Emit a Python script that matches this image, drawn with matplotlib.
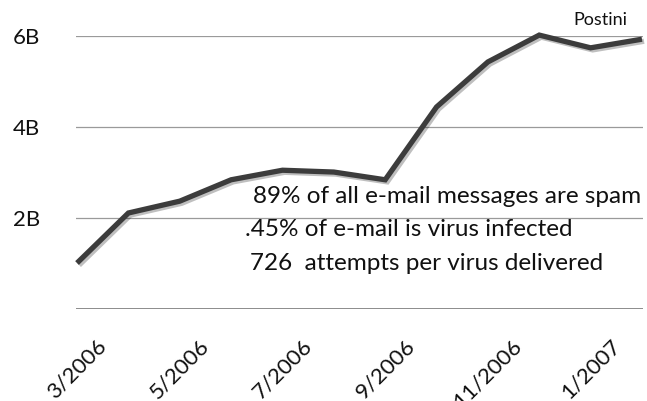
import matplotlib
matplotlib.use("Agg")
import matplotlib.pyplot as plt
import matplotlib.patheffects as pe

months = ["3/2006", "4/2006", "5/2006", "6/2006", "7/2006", "8/2006",
          "9/2006", "10/2006", "11/2006", "12/2006", "1/2007", "2/2007"]
values_b = [1.01, 2.11, 2.37, 2.84, 3.05, 3.01, 2.84, 4.44, 5.43, 6.02, 5.74, 5.93]
tick_labels = ["3/2006", "5/2006", "7/2006", "9/2006", "11/2006", "1/2007"]
y_ticks = [2, 4, 6]
y_tick_labels = ["2B", "4B", "6B"]
notes = ["89% of all e-mail messages are spam",
         ".45% of e-mail is virus infected",
         "726  attempts per virus delivered"]
source = "Postini"

plt.rcParams['font.family'] = ['Lato', 'DejaVu Sans']

W, H = 647, 401
fig = plt.figure(figsize=(W / 100, H / 100), dpi=100)
fig.patch.set_facecolor("white")
ax = fig.add_axes([76 / W, (H - 309) / H, (643 - 76) / W, (309 - 36) / H])
ax.set_facecolor("white")

x = list(range(len(months)))
ax.set_xlim(-0.02, len(months) - 1 + 0.02)
ax.set_ylim(0, 6)

for yt in y_ticks:
    ax.axhline(yt, color="#9a9a9a", lw=0.9, zorder=1)
ax.axhline(0, color="#6a6a6a", lw=1.8, zorder=1)

ax.plot(x, values_b, color="#3c3c3c", lw=3.8, solid_joinstyle="miter",
        solid_capstyle="butt", clip_on=False, zorder=3,
        path_effects=[pe.SimpleLineShadow(offset=(1.5, -1.5), alpha=0.25, shadow_color="#000000"),
                      pe.Normal()])

for s in ax.spines.values():
    s.set_visible(False)

ax.set_yticks(y_ticks)
ax.set_yticklabels(y_tick_labels, fontsize=16, color="#111111")
ax.tick_params(axis="y", length=0, pad=26)

tick_idx = [months.index(t) for t in tick_labels]
ax.set_xticks(tick_idx)
ax.set_xticklabels(tick_labels, rotation=45, ha="center", va="top",
                   fontsize=16, color="#111111")
ax.tick_params(axis="x", length=0, pad=19)

for txt, (px, py) in zip(notes, [(253, 203), (245, 236), (250, 270)]):
    fig.text(px / W, 1 - py / H, txt, fontsize=17.5, color="#111111",
             ha="left", va="baseline")

fig.text(573 / W, 1 - 25 / H, source, fontsize=13, color="#111111",
         ha="left", va="baseline")

fig.savefig("out.png", dpi=100, facecolor="white")
